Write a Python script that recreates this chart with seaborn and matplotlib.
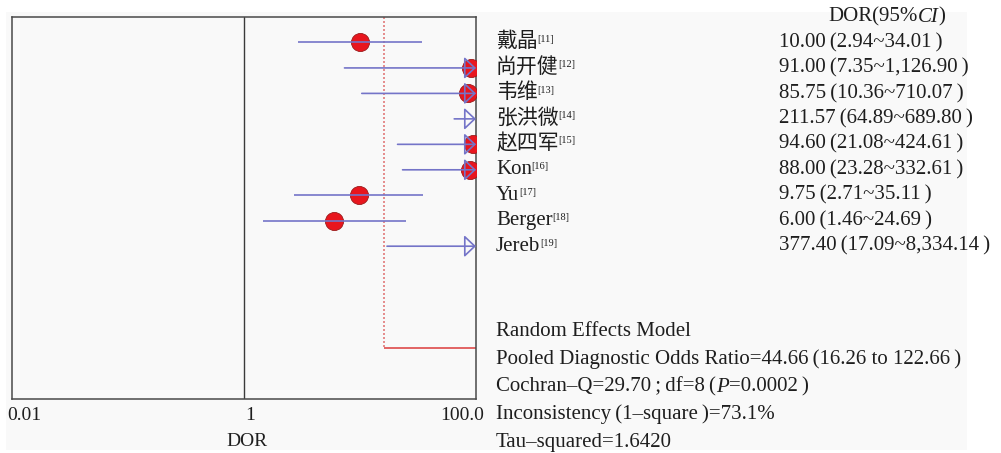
import numpy as np
import pandas as pd
import matplotlib
matplotlib.use("Agg")
import matplotlib.pyplot as plt
import matplotlib.transforms as mtransforms
from matplotlib.patches import Rectangle
import seaborn as sns

# ---- data -------------------------------------------------------------
studies = ["戴晶", "尚开健", "韦维", "张洪微", "赵四军", "Kon", "Yu", "Berger", "Jereb"]
refs = ["[11]", "[12]", "[13]", "[14]", "[15]", "[16]", "[17]", "[18]", "[19]"]
dor = [10.00, 91.00, 85.75, 211.57, 94.60, 88.00, 9.75, 6.00, 377.40]
ci_low = [2.94, 7.35, 10.36, 64.89, 21.08, 23.28, 2.71, 1.46, 17.09]
ci_high = [34.01, 1126.90, 710.07, 689.80, 424.61, 332.61, 35.11, 24.69, 8334.14]

pooled_dor = 44.66
pooled_low = 16.26
pooled_high = 122.66
cochran_q = 29.70
q_df = 8
q_p = "0.0002"
inconsistency = "73.1%"
tau_squared = "1.6420"

xticks = [0.01, 1, 100]
xtick_labels = ["0.01", "1", "100.0"]
x_min, x_max = 0.01, 100

# ---- style ------------------------------------------------------------
sns.set_theme(style="white")
plt.rcParams["font.family"] = ["Liberation Serif", "Noto Sans CJK SC"]
TXT = "#1e1e1e"
BG = "#f9f9f9"
LINE = "#7474c8"
DOT = "#e8161e"
FS = 15
FS_TICK = 14
TS = "\u2009"  # thin space around brackets

W, H = 1001, 453
fig = plt.figure(figsize=(W / 100, H / 100), dpi=100, facecolor="white")
fig.patches.append(Rectangle((6 / W, 1 - 450 / H), (967 - 6) / W, (450 - 12) / H,
                             transform=fig.transFigure, facecolor=BG,
                             edgecolor="none", zorder=-10))

ax_l, ax_r, ax_t, ax_b = 12, 476, 17, 399
ax = fig.add_axes([ax_l / W, 1 - ax_b / H, (ax_r - ax_l) / W, (ax_b - ax_t) / H])
ax.set_facecolor(BG)
ax.set_xscale("log")

rows = np.arange(len(studies))
df = pd.DataFrame({"study": studies, "dor": dor, "low": ci_low,
                   "high": ci_high, "row": rows})

# line of no effect
ax.axvline(1, color="#3a3a3a", lw=1.0, zorder=1)

# pooled estimate (dotted marker line and flat summary bar)
ax.vlines(pooled_low, -1, 12, colors="#e27a7a", lw=1.2,
          linestyles=(0, (1.2, 1.2)), zorder=1)
ax.hlines(12, pooled_low, min(pooled_high, x_max), colors="#e05858", lw=1.3, zorder=1)

# study point estimates (only those inside the axis range)
shown = df[df["dor"] <= x_max]
sns.scatterplot(data=shown, x="dor", y="row", ax=ax, s=170, color=DOT,
                edgecolor="#9a1c1c", linewidth=0.6, zorder=3, legend=False)

# confidence intervals; open arrowheads where the interval leaves the axis
for _, r in df.iterrows():
    lo = max(r["low"], x_min)
    if r["high"] <= x_max:
        ax.hlines(r["row"], lo, r["high"], colors=LINE, lw=1.2, zorder=4)
    else:
        ax.annotate("", xy=(x_max, r["row"]), xytext=(lo, r["row"]),
                    xycoords="data", textcoords="data",
                    arrowprops=dict(arrowstyle="-|>,head_length=0.72,head_width=0.68",
                                    color=LINE, fc="none", lw=1.2,
                                    shrinkA=0, shrinkB=0, mutation_scale=10),
                    zorder=5, annotation_clip=False)

ax.set_xlim(x_min, x_max)
ax.set_ylim(14, -1)
ax.set_yticks([])
ax.set_xticks(xticks)
ax.set_xticklabels([])
ax.set_xlabel("")
ax.set_ylabel("")
ax.tick_params(axis="x", length=0)
ax.minorticks_off()
for sp in ax.spines.values():
    sp.set_color("#4a4a4a")
    sp.set_linewidth(1.1)

# tick labels and axis title
tick_dx = [12, 6, -14]
for t, lab, dx in zip(xticks, xtick_labels, tick_dx):
    ax.annotate(lab, xy=(t, 0), xycoords=ax.get_xaxis_transform(),
                xytext=(dx, -16), textcoords="offset pixels",
                ha="center", va="center", fontsize=FS_TICK, color=TXT,
                annotation_clip=False)
ax.annotate("DOR", xy=(0.5, 0), xycoords="axes fraction",
            xytext=(3, -43), textcoords="offset pixels",
            ha="center", va="center", fontsize=FS_TICK, color=TXT)

# ---- right-hand text table --------------------------------------------
row_tr = mtransforms.blended_transform_factory(fig.transFigure, ax.transData)


def chain(first, pieces):
    prev = first
    for s, style in pieces:
        prev = ax.annotate(s, xy=(1, 0), xycoords=prev, xytext=(0, 0),
                           textcoords="offset points", ha="left", va="bottom",
                           fontsize=FS, fontstyle=style, color=TXT,
                           annotation_clip=False)
    return prev


def fmt(v):
    return f"{v:,.2f}"


head = fig.text(828 / W, -1.0, "DOR(95%", transform=row_tr, fontsize=FS,
                color=TXT, va="center", ha="left")
chain(head, [("CI", "italic"), (")", "normal")])

for i, r in df.iterrows():
    name = fig.text(496 / W, r["row"], r["study"], transform=row_tr, fontsize=FS,
                    color=TXT, va="center", ha="left")
    ax.annotate(refs[i], xy=(1, 1), xycoords=name, xytext=(-0.3, -1.5),
                textcoords="offset points", ha="left", va="top", fontsize=7.5,
                color=TXT, annotation_clip=False)
    fig.text(779 / W, r["row"],
             f"{fmt(r['dor'])}{TS}({fmt(r['low'])}~{fmt(r['high'])}{TS})",
             transform=row_tr, fontsize=FS, color=TXT, va="center", ha="left")

stat_y = [332, 359, 387, 414, 442]
fig.text(496 / W, 1 - stat_y[0] / H, "Random Effects Model", fontsize=FS,
         color=TXT, va="center", ha="left")
fig.text(496 / W, 1 - stat_y[1] / H,
         f"Pooled Diagnostic Odds Ratio={pooled_dor:.2f}{TS}({pooled_low:.2f} to {pooled_high:.2f}{TS})",
         fontsize=FS, color=TXT, va="center", ha="left")
cq = fig.text(496 / W, 1 - stat_y[2] / H,
              f"Cochran–Q={cochran_q:.2f}{TS};{TS}df={q_df}{TS}(",
              fontsize=FS, color=TXT, va="center", ha="left")
chain(cq, [("P", "italic"), (f"={q_p}{TS})", "normal")])
fig.text(496 / W, 1 - stat_y[3] / H,
         f"Inconsistency{TS}(1–square{TS})={inconsistency}",
         fontsize=FS, color=TXT, va="center", ha="left")
fig.text(496 / W, 1 - stat_y[4] / H, f"Tau–squared={tau_squared}",
         fontsize=FS, color=TXT, va="center", ha="left")

fig.savefig("out.png", dpi=100, facecolor="white")
